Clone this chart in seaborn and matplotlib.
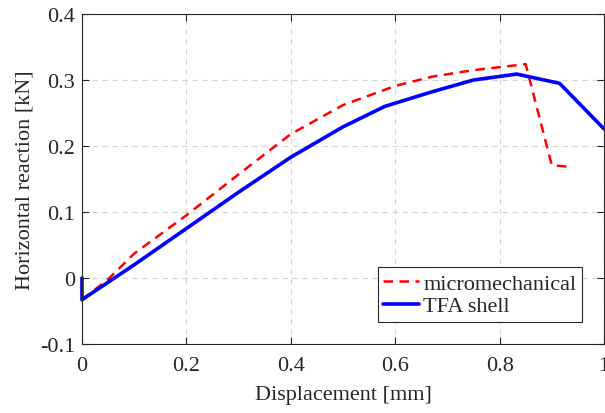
import matplotlib
matplotlib.use("Agg")
import matplotlib.pyplot as plt
import seaborn as sns
import pandas as pd

# micromechanical model (red dashed)
micro_x = [0.0, 0.05, 0.1, 0.2, 0.3, 0.4, 0.5, 0.6, 0.67, 0.75, 0.85, 0.9, 0.94]
micro_y = [-0.033, -0.002, 0.037, 0.095, 0.157, 0.218, 0.262, 0.291, 0.305, 0.315, 0.324, 0.171, 0.168]

# TFA shell model (blue solid)
tfa_x = [0.0, 0.0, 0.1, 0.2, 0.3, 0.4, 0.5, 0.58, 0.67, 0.75, 0.833, 0.915, 1.0]
tfa_y = [0.0, -0.033, 0.02, 0.075, 0.13, 0.183, 0.229, 0.26, 0.282, 0.3, 0.309, 0.295, 0.226]

sns.set_style("white")
plt.rcParams['font.family'] = ['Liberation Serif', 'DejaVu Serif']

fs = 16
fig = plt.figure(figsize=(6.05, 4.14), dpi=100)
ax = fig.add_axes([0.1355, 0.1667, 0.8628, 0.797])

df_micro = pd.DataFrame({"x": micro_x, "y": micro_y})
df_tfa = pd.DataFrame({"x": tfa_x, "y": tfa_y})

sns.lineplot(data=df_micro, x="x", y="y", ax=ax, color="#ff0000", linestyle="--",
             linewidth=1.8, sort=False, estimator=None, label="micromechanical")
sns.lineplot(data=df_tfa, x="x", y="y", ax=ax, color="#0000ff", linestyle="-",
             linewidth=2.6, sort=False, estimator=None, label="TFA shell")
ax.lines[0].set_dashes([3.8, 2.6])
ax.lines[1].set_clip_on(False)

ax.set_xlim(0, 1)
ax.set_ylim(-0.1, 0.4)
ax.set_xticks([0, 0.2, 0.4, 0.6, 0.8, 1])
ax.set_xticklabels(["0", "0.2", "0.4", "0.6", "0.8", "1"])
ax.set_yticks([-0.1, 0, 0.1, 0.2, 0.3, 0.4])
ax.set_yticklabels(["-0.1", "0", "0.1", "0.2", "0.3", "0.4"])
ax.tick_params(direction="in", length=5, width=0.8, labelsize=fs, colors="#262626",
               top=True, right=True, bottom=True, left=True)
ax.tick_params(axis="x", pad=9)
ax.tick_params(axis="y", pad=5)
ax.grid(True, color="#d4d4d4", linestyle=(0, (5, 4)), linewidth=0.8)
for s in ax.spines.values():
    s.set_color("#262626")
    s.set_linewidth(0.8)

ax.set_xlabel("Displacement [mm]", fontsize=fs, color="#262626", labelpad=7)
ax.set_ylabel("Horizontal reaction [kN]", fontsize=fs, color="#262626", labelpad=4)

leg = ax.legend(loc="lower right", bbox_to_anchor=(0.958, 0.067), fontsize=fs,
                frameon=True, fancybox=False, framealpha=1, edgecolor="#262626",
                handlelength=1.6, handletextpad=0.2, borderpad=0.25, labelspacing=0.1,
                borderaxespad=0)
leg.get_frame().set_linewidth(0.8)

fig.savefig("out.png", dpi=100)
